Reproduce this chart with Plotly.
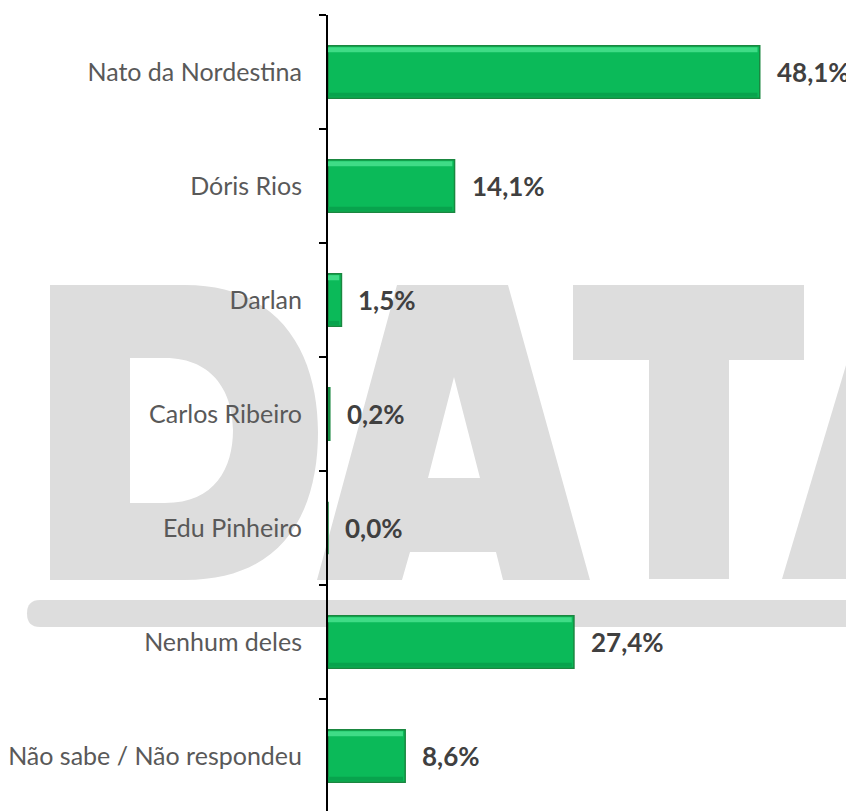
import plotly.graph_objects as go

# ---- data ----
categories = ["Nato da Nordestina", "Dóris Rios", "Darlan", "Carlos Ribeiro",
              "Edu Pinheiro", "Nenhum deles", "Não sabe / Não respondeu"]
values = [48.1, 14.1, 1.5, 0.2, 0.0, 27.4, 8.6]
value_labels = [f"{v:.1f}".replace(".", ",") + "%" for v in values]

# page has an 8px body margin; build the figure so that content lands at reference pixels
OFF = 8
W, H = 854 - OFF, 811 - OFF

def X(px):
    return (px - OFF) / W

def Y(py):
    return 1 - (py - OFF) / H

def path(cmds):
    out = []
    for c in cmds:
        if isinstance(c, str):
            out.append(c)
        else:
            out.append(f"{X(c[0]):.5f},{Y(c[1]):.5f}")
    return " ".join(out)

wm = "#dddddd"
shapes = []
# D
shapes.append(dict(type="path", xref="paper", yref="paper", layer="below",
                   fillcolor=wm, line=dict(width=0), fillrule="evenodd",
                   path=path(["M", (50, 285), "L", (185, 285), "C", (285, 285), (318, 360), (318, 432),
                              "C", (318, 510), (285, 580), (185, 580), "L", (50, 580), "Z",
                              "M", (130, 358), "L", (165, 358), "C", (215, 358), (233, 395), (233, 430),
                              "C", (233, 468), (215, 503), (165, 503), "L", (130, 503), "Z"])))
# A
shapes.append(dict(type="path", xref="paper", yref="paper", layer="below",
                   fillcolor=wm, line=dict(width=0), fillrule="evenodd",
                   path=path(["M", (317, 580), "L", (397, 285), "L", (508, 285), "L", (590, 580),
                              "L", (503, 580), "L", (496, 552), "L", (410, 552), "L", (402, 580), "Z",
                              "M", (454, 377), "L", (480, 478), "L", (428, 478), "Z"])))
# T
shapes.append(dict(type="path", xref="paper", yref="paper", layer="below",
                   fillcolor=wm, line=dict(width=0),
                   path=path(["M", (573, 285), "L", (804, 285), "L", (804, 360), "L", (729, 360),
                              "L", (729, 579), "L", (649, 579), "L", (649, 360), "L", (573, 360), "Z"])))
# second A (cut by the right edge)
shapes.append(dict(type="path", xref="paper", yref="paper", layer="below",
                   fillcolor=wm, line=dict(width=0),
                   path=path(["M", (782, 579), "L", (870, 285), "L", (900, 285), "L", (900, 579), "Z"])))
# rounded bar
shapes.append(dict(type="path", xref="paper", yref="paper", layer="below",
                   fillcolor=wm, line=dict(width=0),
                   path=path(["M", (40, 600), "L", (900, 600), "L", (900, 627), "L", (40, 627),
                              "Q", (27, 627), (27, 613.5), "Q", (27, 600), (40, 600), "Z"])))

BW = 0.46
fig = go.Figure()
fig.add_trace(go.Bar(
    y=categories, x=values, orientation="h", width=BW,
    marker=dict(color="#0bba59", line=dict(color="#1a8740", width=1.5)),
    hoverinfo="skip", showlegend=False,
))
# bevel highlight (top) and shade (bottom)
fig.add_trace(go.Bar(
    y=categories, x=[max(v - 0.25, 0) for v in values], orientation="h",
    width=0.045, offset=-BW / 2 + 0.012,
    marker=dict(color="#3fdc86", line=dict(width=0)),
    hoverinfo="skip", showlegend=False,
))
fig.add_trace(go.Bar(
    y=categories, x=[max(v - 0.25, 0) for v in values], orientation="h",
    width=0.035, offset=BW / 2 - 0.047,
    marker=dict(color="#08a34d", line=dict(width=0)),
    hoverinfo="skip", showlegend=False,
))

annotations = []
for c, v, t in zip(categories, values, value_labels):
    annotations.append(dict(x=v, y=c, xref="x", yref="y", text=t, showarrow=False,
                            xanchor="left", yanchor="middle", xshift=15,
                            font=dict(family="Lato", size=26, color="#404040", weight="bold")))

top_px, bot_px = 15, 811
band = 114.0
span = (bot_px - top_px) / band

fig.update_layout(
    width=W, height=H,
    margin=dict(l=0, r=0, t=0, b=0),
    paper_bgcolor="white",
    plot_bgcolor="rgba(0,0,0,0)",
    barmode="overlay",
    shapes=shapes,
    annotations=annotations,
    xaxis=dict(domain=[X(328), 1], range=[0, 58.6], visible=False, fixedrange=True),
    yaxis=dict(domain=[0, Y(top_px)], range=[-0.5 + span, -0.5],
               categoryorder="array", categoryarray=categories,
               showline=True, linecolor="black", linewidth=2,
               ticks="outside", tickson="boundaries", ticklen=7, tickwidth=2, tickcolor="black",
               ticklabelstandoff=19,
               tickfont=dict(family="Lato", size=25, color="#595959"),
               showgrid=False, zeroline=False, fixedrange=True),
    font=dict(family="Lato"),
)

fig.write_html("out.html")
